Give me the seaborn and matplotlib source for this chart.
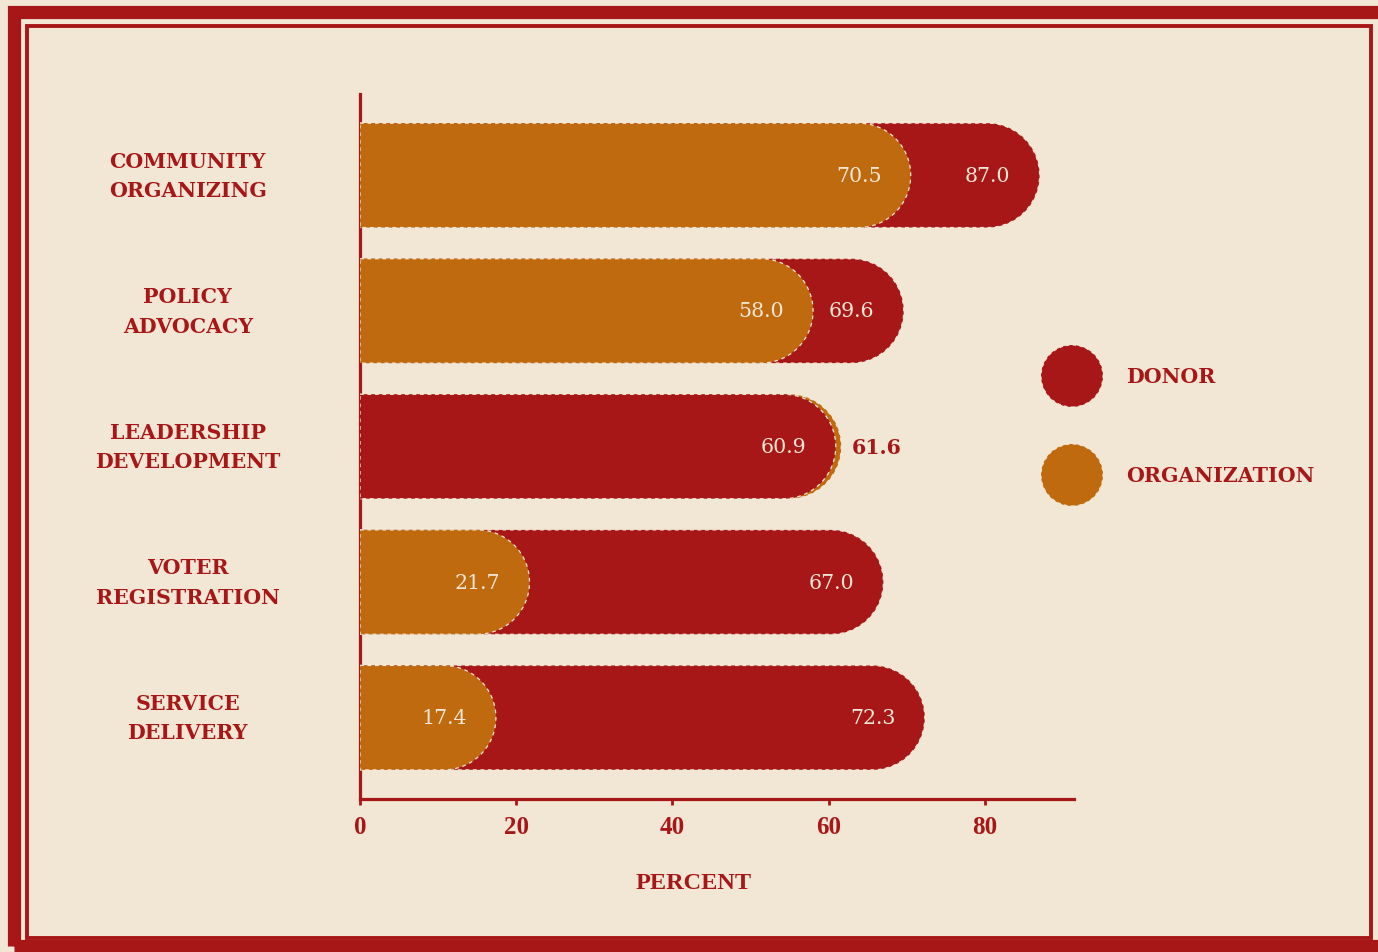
import numpy as np
import pandas as pd
import matplotlib
matplotlib.use("Agg")
import matplotlib.pyplot as plt
import matplotlib.patches as mpatches
import seaborn as sns

# ---------------- data ----------------
categories = ["COMMUNITY\nORGANIZING", "POLICY\nADVOCACY", "LEADERSHIP\nDEVELOPMENT",
              "VOTER\nREGISTRATION", "SERVICE\nDELIVERY"]
donor = [87.0, 69.6, 60.9, 67.0, 72.3]
organization = [70.5, 58.0, 61.6, 21.7, 17.4]
groups = ["DONOR", "ORGANIZATION"]
x_ticks = [0, 20, 40, 60, 80]

BG = "#F2E7D5"
RED = "#A81718"
ORANGE = "#BF6A0F"
palette = {"DONOR": RED, "ORGANIZATION": ORANGE}

W, H = 1378, 953
DPI = 100

sns.set_theme(style="white")
plt.rcParams["font.family"] = ["DejaVu Serif", "DejaVu Sans"]

df = pd.DataFrame({
    "category": categories * 2,
    "value": donor + organization,
    "group": ["DONOR"] * len(categories) + ["ORGANIZATION"] * len(categories),
})

fig = plt.figure(figsize=(W / DPI, H / DPI), dpi=DPI, facecolor=BG)


def fx(px):
    return px / W


def fy(py):
    return 1 - py / H


ax_l, ax_r, ax_t, ax_b = 360, 1074, 95, 800
ax = fig.add_axes([fx(ax_l), fy(ax_b), fx(ax_r - ax_l), (ax_b - ax_t) / H])
ax.set_facecolor(BG)

sns.barplot(data=df, y="category", x="value", hue="group", dodge=False,
            orient="h", width=0.77, palette=palette, legend=False, ax=ax,
            order=categories, hue_order=groups, saturation=1)

XMAX = 91.4
ax.set_xlim(0, XMAX)
ax.set_ylim(len(categories) - 0.4, -0.6)

px_per_x = (ax_r - ax_l) / XMAX
px_per_y = (ax_b - ax_t) / (len(categories) + 0.2)

# replace rectangles with bars having a rounded right end
bars = list(ax.patches)
for p in bars:
    x0, y0 = p.get_x(), p.get_y()
    w, h = p.get_width(), p.get_height()
    color = p.get_facecolor()
    p.set_visible(False)
    ry = h / 2
    rx = ry * px_per_y / px_per_x
    yc = y0 + ry
    cx = x0 + w - rx
    theta = np.linspace(-np.pi / 2, np.pi / 2, 60)
    arc = np.column_stack([cx + rx * np.cos(theta), yc + ry * np.sin(theta)])
    verts = np.vstack([[x0, y0], arc, [x0, y0 + h], [x0, y0]])
    poly = mpatches.Polygon(verts, closed=True, facecolor=color,
                            edgecolor=BG, linewidth=0.9, linestyle=(0, (3, 3)),
                            zorder=3 + (100 - w) / 100)
    ax.add_patch(poly)

# value labels
off = 52 / px_per_x
VFS = 14.8
for i in range(len(categories)):
    d, o = donor[i], organization[i]
    big, small = max(d, o), min(d, o)
    ax.text(small - off, i, f"{small:.1f}", ha="center", va="center",
            color=BG, fontsize=VFS, zorder=10)
    if big - small > 8:
        ax.text(big - off, i, f"{big:.1f}", ha="center", va="center",
                color=BG, fontsize=VFS, zorder=10)
    else:
        ax.text(big + 11 / px_per_x, i, f"{big:.1f}", ha="left", va="center",
                color=RED, fontsize=VFS, fontweight="bold", zorder=10)

# axes styling
for s in ["top", "right"]:
    ax.spines[s].set_visible(False)
for s in ["left", "bottom"]:
    ax.spines[s].set_color(RED)
    ax.spines[s].set_linewidth(2.3)
ax.set_xticks(x_ticks)
ax.set_xticklabels([str(t) for t in x_ticks], color=RED, fontsize=18,
                   fontweight="bold", family=["Liberation Serif"])
ax.tick_params(axis="x", length=4, width=2, color=RED, pad=7.5, direction="out", bottom=True)
ax.tick_params(axis="y", length=0, pad=124)
for lab in ax.get_yticklabels():
    lab.set_ha("center")
    lab.set_va("center")
    lab.set_color(RED)
    lab.set_fontsize(14.8)
    lab.set_fontweight("bold")
    lab.set_linespacing(1.6)
ax.set_ylabel("")
ax.set_xlabel("PERCENT", color=RED, fontsize=17.5, fontweight="bold",
              family=["Liberation Serif"])
ax.xaxis.set_label_coords((694 - ax_l) / (ax_r - ax_l), -(884 - ax_b) / (ax_b - ax_t))
ax.xaxis.label.set_va("center")

# legend (manual)
for lbl, cy in zip(groups, [377, 476]):
    circ = mpatches.Ellipse((fx(1072), fy(cy)), 62 / W, 62 / H,
                            transform=fig.transFigure, facecolor=palette[lbl],
                            edgecolor=BG, linewidth=0.8, linestyle=(0, (3, 3)))
    fig.add_artist(circ)
    fig.text(fx(1126), fy(cy), lbl, ha="left", va="center", color=RED,
             fontsize=14.8, fontweight="bold")

# frame: thick outer band + thin inner line
outer = mpatches.Rectangle((fx(13.5), fy(946.5)), fx(1381.5 - 13.5), (946.5 - 12.5) / H,
                           transform=fig.transFigure, fill=False,
                           edgecolor=RED, linewidth=9.5)
fig.add_artist(outer)
inner = mpatches.Rectangle((fx(27), fy(938.5)), fx(1371 - 27), (938.5 - 27) / H,
                           transform=fig.transFigure, fill=False,
                           edgecolor=RED, linewidth=2.8)
fig.add_artist(inner)

fig.savefig("out.png", dpi=DPI, facecolor=BG)
